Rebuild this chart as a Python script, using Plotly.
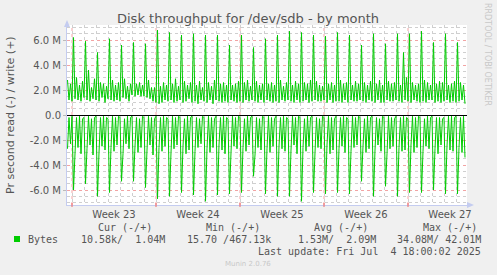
import pandas as pd
import plotly.graph_objects as go

# ---- data (MB/s, 3-hour samples starting 2025-06-01 15:00) ----
write_mb = [
    2.8, 1.2, 2.5,                                   # Jun 1 (partial)
    1.1, 6.2, 1.3, 3.0, 1.2, 2.4, 1.1, 2.7,          # Jun 2
    1.4, 5.9, 1.2, 3.6, 1.1, 2.2, 1.3, 2.9,          # Jun 3
    1.2, 5.0, 1.1, 2.6, 1.4, 2.5, 1.0, 2.3,          # Jun 4
    1.3, 6.1, 1.2, 2.8, 1.1, 2.4, 1.2, 2.6,          # Jun 5
    1.1, 5.6, 1.4, 2.9, 1.3, 2.3, 1.1, 2.5,          # Jun 6
    1.6, 5.8, 1.5, 2.5, 1.6, 2.6, 1.5, 2.4,          # Jun 7
    1.5, 5.7, 1.4, 2.8, 1.3, 2.2, 1.1, 2.2,          # Jun 8
    1.0, 6.8, 0.9, 2.3, 1.0, 2.6, 1.2, 2.4,          # Jun 9
    1.1, 6.6, 1.2, 2.5, 1.0, 2.9, 1.1, 2.3,          # Jun 10
    1.2, 6.4, 1.0, 2.7, 1.1, 2.4, 1.3, 2.6,          # Jun 11
    1.0, 6.5, 1.1, 2.4, 0.9, 2.7, 1.2, 2.2,          # Jun 12
    1.1, 6.4, 1.0, 2.6, 1.2, 2.3, 0.9, 2.8,          # Jun 13
    1.2, 6.4, 1.1, 2.5, 1.0, 2.6, 1.1, 2.4,          # Jun 14
    1.0, 5.6, 1.2, 2.4, 1.1, 2.5, 1.0, 2.7,          # Jun 15
    1.1, 6.4, 1.0, 2.6, 1.2, 2.8, 1.1, 2.3,          # Jun 16
    1.2, 5.4, 1.1, 2.7, 1.0, 2.4, 1.2, 2.5,          # Jun 17
    1.0, 6.1, 1.2, 2.5, 1.1, 2.6, 1.0, 2.4,          # Jun 18
    1.1, 6.4, 1.0, 2.8, 1.2, 2.3, 1.1, 2.6,          # Jun 19
    1.2, 6.7, 1.1, 2.4, 1.0, 2.7, 1.2, 2.5,          # Jun 20
    1.0, 6.6, 1.1, 2.6, 1.2, 2.5, 1.0, 2.8,          # Jun 21
    1.1, 6.4, 1.2, 2.7, 1.1, 2.4, 1.1, 2.3,          # Jun 22
    1.2, 6.3, 1.0, 2.5, 1.2, 2.6, 1.0, 2.4,          # Jun 23
    1.1, 6.6, 1.1, 2.8, 1.0, 2.5, 1.2, 2.6,          # Jun 24
    1.0, 6.4, 1.2, 2.4, 1.1, 2.7, 1.1, 2.5,          # Jun 25
    1.2, 5.6, 1.1, 2.6, 1.0, 2.4, 1.2, 2.7,          # Jun 26
    1.1, 6.5, 1.0, 2.5, 1.2, 2.8, 1.0, 2.4,          # Jun 27
    1.0, 5.7, 1.2, 2.7, 1.1, 2.5, 1.1, 2.6,          # Jun 28
    1.2, 6.5, 1.1, 2.4, 1.0, 5.0, 1.2, 3.0,          # Jun 29
    1.1, 6.5, 1.0, 2.6, 1.2, 2.4, 1.1, 2.5,          # Jun 30
    1.0, 6.7, 1.1, 2.8, 1.0, 2.6, 1.2, 2.4,          # Jul 1
    1.2, 5.8, 1.0, 2.5, 1.1, 2.7, 1.0, 2.6,          # Jul 2
    1.1, 6.5, 1.2, 2.4, 1.0, 2.5, 1.1, 2.7,          # Jul 3
    1.0, 5.8, 1.1, 2.6, 1.2, 2.4, 0.9,               # Jul 4 (partial)
]

read_mb = [
    -2.7, -0.2, -2.3,                                       # Jun 1
    -0.1, -6.0, -2.9, -0.2, -2.6, -0.1, -3.1, -0.3,         # Jun 2
    -0.2, -5.5, -2.7, -0.1, -2.4, -0.3, -3.2, -0.2,         # Jun 3
    -0.1, -6.5, -3.0, -0.2, -2.5, -0.1, -2.8, -0.2,         # Jun 4
    -0.3, -6.2, -2.6, -0.1, -2.9, -0.2, -2.4, -0.1,         # Jun 5
    -0.2, -5.3, -3.1, -0.3, -2.3, -0.1, -2.7, -0.2,         # Jun 6
    -0.1, -5.3, -2.5, -0.2, -3.0, -0.3, -2.6, -0.1,         # Jun 7
    -0.2, -5.8, -2.8, -0.1, -2.4, -0.2, -3.2, -0.3,         # Jun 8
    -0.1, -6.7, -2.6, -0.2, -2.9, -0.1, -2.5, -0.2,         # Jun 9
    -0.3, -6.5, -3.0, -0.1, -2.7, -0.2, -2.4, -0.1,         # Jun 10
    -0.2, -6.2, -2.5, -0.3, -3.1, -0.1, -2.8, -0.2,         # Jun 11
    -0.1, -6.4, -2.9, -0.2, -2.6, -0.3, -2.3, -0.1,         # Jun 12
    -0.2, -6.9, -2.7, -0.1, -3.0, -0.2, -2.6, -0.3,         # Jun 13
    -0.1, -6.4, -2.4, -0.2, -2.8, -0.1, -3.1, -0.2,         # Jun 14
    -0.3, -6.3, -3.0, -0.1, -2.5, -0.2, -2.7, -0.1,         # Jun 15
    -0.2, -6.2, -2.6, -0.3, -2.9, -0.1, -2.4, -0.2,         # Jun 16
    -0.1, -4.9, -3.2, -0.2, -2.6, -0.3, -2.8, -0.1,         # Jun 17
    -0.2, -6.3, -2.7, -0.1, -3.0, -0.2, -2.5, -0.3,         # Jun 18
    -0.1, -6.5, -2.5, -0.2, -2.7, -0.1, -2.9, -0.2,         # Jun 19
    -0.3, -6.5, -2.8, -0.1, -2.4, -0.2, -3.1, -0.1,         # Jun 20
    -0.2, -6.9, -2.6, -0.3, -2.9, -0.1, -2.5, -0.2,         # Jun 21
    -0.1, -6.2, -3.0, -0.2, -2.6, -0.3, -2.7, -0.1,         # Jun 22
    -0.2, -6.3, -2.4, -0.1, -3.1, -0.2, -2.8, -0.3,         # Jun 23
    -0.1, -6.2, -2.7, -0.2, -2.5, -0.1, -3.0, -0.2,         # Jun 24
    -0.3, -6.3, -2.9, -0.1, -2.6, -0.2, -2.4, -0.1,         # Jun 25
    -0.2, -5.3, -2.5, -0.3, -3.0, -0.1, -2.7, -0.2,         # Jun 26
    -0.1, -6.5, -2.8, -0.2, -2.4, -0.3, -2.9, -0.1,         # Jun 27
    -0.2, -5.7, -3.1, -0.1, -2.7, -0.2, -2.5, -0.3,         # Jun 28
    -0.1, -6.5, -2.6, -0.2, -2.9, -0.1, -2.8, -0.2,         # Jun 29
    -0.3, -6.2, -2.4, -0.1, -3.0, -0.2, -2.6, -0.1,         # Jun 30
    -0.2, -6.2, -2.9, -0.3, -2.5, -0.1, -2.7, -0.2,         # Jul 1
    -0.1, -6.0, -2.7, -0.2, -3.1, -0.2, -2.4, -0.3,         # Jul 2
    -0.2, -6.3, -2.5, -0.1, -2.8, -0.1, -2.9, -0.2,         # Jul 3
    -0.1, -6.3, -2.6, -0.2, -3.0, -0.1, -3.4,               # Jul 4
]

times = pd.date_range("2025-06-01 15:00", periods=len(write_mb), freq="3h")

week_labels = ["Week 23", "Week 24", "Week 25", "Week 26", "Week 27"]
week_label_pos = ["2025-06-05 12:00", "2025-06-12 12:00", "2025-06-19 12:00",
                  "2025-06-26 12:00", "2025-07-03 12:00"]
week_starts = ["2025-06-02", "2025-06-09", "2025-06-16", "2025-06-23", "2025-06-30"]

y_tickvals = [-6, -4, -2, 0, 2, 4, 6]
y_ticktext = ["-6.0 M", "-4.0 M", "-2.0 M", "0.0", "2.0 M", "4.0 M", "6.0 M"]

legend_name = "Bytes"
cur_txt = "10.58k/  1.04M"
min_txt = "15.70 /467.13k"
avg_txt = "1.53M/  2.09M"
max_txt = "34.08M/ 42.01M"
last_update = "Last update: Fri Jul  4 18:00:02 2025"

GREEN = "#00CC00"
TXT = "#555555"
AXIS = "#c4ccf0"

# ---- figure ----
W, H = 497, 275
L, R, T, B = 67, 30, 25, 70
PW, PH = W - L - R, H - T - B


def px(x):
    return (x - L) / PW


def py(y):
    return (H - B - y) / PH


fig = go.Figure()
fig.add_trace(go.Scatter(x=times, y=write_mb, mode="lines",
                         line=dict(color=GREEN, width=1), hoverinfo="skip"))
fig.add_trace(go.Scatter(x=times, y=read_mb, mode="lines",
                         line=dict(color=GREEN, width=1), hoverinfo="skip"))

fig.update_layout(
    width=W, height=H, autosize=False,
    margin=dict(l=L, r=R, t=T, b=B, pad=0),
    paper_bgcolor="#F0F0F0", plot_bgcolor="#FFFFFF",
    showlegend=False,
    font=dict(family="DejaVu Sans", size=10, color=TXT),
)

fig.update_xaxes(
    type="date",
    range=["2025-06-01 14:00", "2025-07-04 22:00"],
    tickmode="array", tickvals=week_label_pos, ticktext=week_labels,
    showgrid=False, ticks="", zeroline=False,
    showline=True, linecolor=AXIS, linewidth=1,
    tickfont=dict(family="DejaVu Sans", size=10, color=TXT),
    minor=dict(dtick=86400000, tick0="2025-06-01", showgrid=True,
               gridcolor="#cfcfcf", griddash="dot", gridwidth=1),
)

fig.update_yaxes(
    range=[-7.2, 7.2],
    tickmode="array", tickvals=y_tickvals, ticktext=y_ticktext,
    showgrid=True, gridcolor="#f2a4a4", griddash="dot", gridwidth=1,
    zeroline=True, zerolinecolor="#000000", zerolinewidth=1,
    showline=True, linecolor=AXIS, linewidth=1,
    ticks="outside", ticklen=3, tickcolor="#bbbbbb",
    tickfont=dict(family="DejaVu Sans", size=10, color=TXT),
    minor=dict(dtick=0.5, tick0=0, showgrid=True,
               gridcolor="#cfcfcf", griddash="dot", gridwidth=1),
)

shapes = []
for ws in week_starts:
    shapes.append(dict(type="line", xref="x", yref="paper", x0=ws, x1=ws, y0=0, y1=1,
                       line=dict(color="#f2a4a4", width=1, dash="dot"), layer="below"))
    shapes.append(dict(type="line", xref="x", yref="paper", x0=ws, x1=ws,
                       y0=py(207), y1=py(203),
                       line=dict(color="#ee6666", width=1), layer="above"))
# axis arrows
shapes.append(dict(type="path", xref="paper", yref="paper",
                   path=f"M {px(64)} {py(27)} L {px(70)} {py(27)} L {px(67)} {py(20)} Z",
                   fillcolor=AXIS, line=dict(width=0)))
shapes.append(dict(type="path", xref="paper", yref="paper",
                   path=f"M {px(467)} {py(202)} L {px(467)} {py(208)} L {px(474)} {py(205)} Z",
                   fillcolor=AXIS, line=dict(width=0)))
# legend swatch
shapes.append(dict(type="rect", xref="paper", yref="paper",
                   x0=px(14), x1=px(20), y0=py(242), y1=py(236),
                   fillcolor=GREEN, line=dict(width=0)))
fig.update_layout(shapes=shapes)

MONO = "DejaVu Sans Mono"
ann = []


def text(x, y, s, anchor="left", size=10, color=TXT, family=MONO, angle=0):
    ann.append(dict(xref="paper", yref="paper", x=px(x), y=py(y), text=s,
                    showarrow=False, xanchor=anchor, yanchor="middle",
                    textangle=angle,
                    font=dict(family=family, size=size, color=color)))


text(248, 19, "Disk throughput for /dev/sdb - by month", anchor="center",
     size=13, family="DejaVu Sans")
text(10, 115, "Pr second read (-) / write (+)", anchor="center",
     size=11, family="DejaVu Sans", angle=-90)
text(488, 54, "RRDTOOL / TOBI OETIKER", anchor="center", size=8,
     family="DejaVu Sans", color="#c8c8c8", angle=90)
text(125, 227, "Cur (-/+)", anchor="center")
text(233, 227, "Min (-/+)", anchor="center")
text(341, 227, "Avg (-/+)", anchor="center")
text(450, 227, "Max (-/+)", anchor="center")
text(26, 239, legend_name)
text(167, 239, cur_txt, anchor="right")
text(273, 239, min_txt, anchor="right")
text(378, 239, avg_txt, anchor="right")
text(483, 239, max_txt, anchor="right")
text(483, 251, last_update, anchor="right")
text(248, 264, "Munin 2.0.76", anchor="center", size=7,
     family="DejaVu Sans", color="#c8c8c8")
fig.update_layout(annotations=ann)

fig.write_html("out.html")
